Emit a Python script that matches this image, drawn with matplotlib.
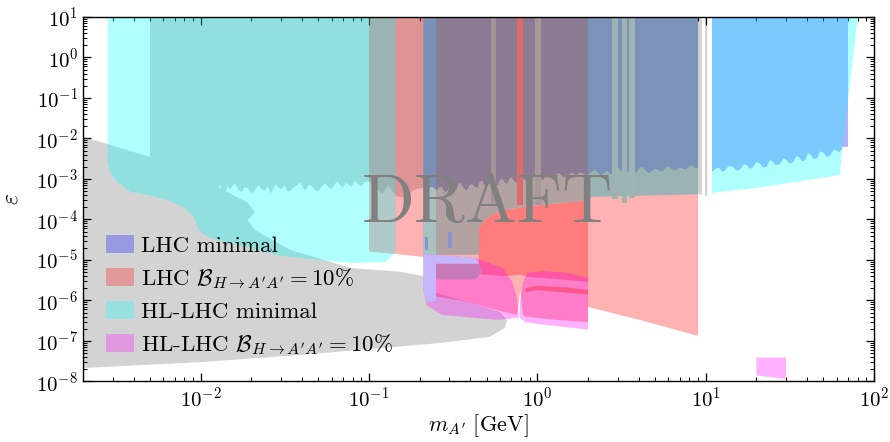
import numpy as np
import matplotlib
matplotlib.use('Agg')
import matplotlib.pyplot as plt
from matplotlib.patches import Patch
from matplotlib.ticker import LogLocator, NullFormatter

plt.rcParams['font.family'] = 'serif'
plt.rcParams['font.serif'] = ['cmr10']
plt.rcParams['mathtext.fontset'] = 'cm'
plt.rcParams['axes.unicode_minus'] = False
plt.rcParams['axes.formatter.use_mathtext'] = True

# ---- existing bounds (grey) ----
beam_dump_m = [2.0e-3, 5.0e-3, 8.7e-3, 1.9e-2, 2.1e-2, 1.9e-2, 2.1e-2, 3.4e-2, 7.8e-2, 0.153,
               0.21, 0.22, 0.35, 0.60, 0.66, 0.64, 0.52, 0.265, 3.9e-2, 1.0e-2, 2.0e-3]
beam_dump_e = [1.1e-2, 3.5e-3, 1.4e-3, 2.6e-4, 1.5e-4, 9.7e-5, 5.5e-5, 1.77e-5, 6.3e-6, 5.1e-6,
               4.0e-6, 1.8e-6, 1.03e-6, 5.2e-7, 3.3e-7, 2.1e-7, 1.26e-7, 8.9e-8, 4.5e-8, 3.0e-8, 2.15e-8]

babar_m = [0.0096, 0.0100, 0.0105, 0.0109, 0.0113, 0.0117, 0.012, 0.0125, 0.013, 0.0135, 0.014,
           0.0145, 0.015, 0.0155, 0.016, 0.0168, 0.0175, 0.0182, 0.019, 0.0198, 0.0205, 0.0213,
           0.022, 0.023, 0.024, 0.025, 0.026, 0.027, 0.028, 0.029, 0.030, 0.0315, 0.033, 0.0345,
           0.036, 0.0375, 0.039, 0.0405, 0.042, 0.044, 0.046, 0.048, 0.050, 0.0525, 0.055, 0.0575,
           0.060, 0.0625, 0.065, 0.0675, 0.070, 0.073, 0.076, 0.079, 0.082, 0.086, 0.090, 0.095,
           0.100, 0.105, 0.110, 0.115, 0.120, 0.125, 0.130, 0.137, 0.145, 0.152, 0.160, 0.170,
           0.180, 0.195, 0.210]
babar_e = [8.0e-4, 6.0e-4, 5.0e-4, 6.6e-4, 6.2e-4, 4.6e-4, 4.4e-4, 5.8e-4, 6.8e-4, 5.2e-4, 4.9e-4,
           6.4e-4, 5.6e-4, 7.0e-4, 7.8e-4, 5.3e-4, 4.7e-4, 6.2e-4, 6.0e-4, 4.8e-4, 4.5e-4, 5.9e-4,
           7.0e-4, 5.6e-4, 5.1e-4, 6.6e-4, 4.4e-4, 5.8e-4, 7.4e-4, 6.1e-4, 5.5e-4, 6.9e-4, 4.8e-4,
           5.4e-4, 6.3e-4, 7.1e-4, 8.2e-4, 6.0e-4, 5.2e-4, 7.3e-4, 6.5e-4, 5.3e-4, 5.0e-4, 6.6e-4,
           7.8e-4, 6.2e-4, 5.6e-4, 7.4e-4, 8.8e-4, 6.9e-4, 6.2e-4, 8.0e-4, 7.2e-4, 6.4e-4, 9.2e-4,
           7.5e-4, 6.6e-4, 8.7e-4, 8.4e-4, 6.9e-4, 6.0e-4, 5.0e-4, 4.2e-4, 5.6e-4, 7.0e-4, 5.1e-4,
           3.8e-4, 3.6e-4, 3.4e-4, 4.2e-4, 5.0e-4, 5.8e-4, 6.0e-4]
prompt_m = [5.0e-3, 5.0e-3, 7.6e-3] + babar_m + [2.0, 9.0, 10.2, 10.2]
prompt_e = [10, 2.95e-3, 1.67e-3] + babar_e + [3.6e-4, 4.2e-4, 3.8e-4, 10]

# ---- LHC, B(H->A'A') = 10% (red) ----
lhc_br_m = [0.1, 9.0, 9.0, 4.07, 2.0, 2.0, 1.2, 0.85, 0.82, 0.79, 0.76, 0.6, 0.35, 0.25, 0.25,
            0.21, 0.145, 0.1]
lhc_br_e = [10, 10, 1.33e-7, 3.3e-7, 6.9e-7, 2.9e-7, 3.4e-7, 4.0e-7, 4.5e-7, 1.8e-6, 4.4e-7,
            5.5e-7, 1.0e-6, 1.25e-6, 1.2e-5, 1.19e-5, 1.4e-5, 1.6e-5]
lhc_br2_m = [0.45, 0.48, 0.52, 0.60, 0.80, 1.08, 1.5, 2.0, 2.0, 1.5, 1.1, 0.87, 0.80, 0.62, 0.45]
lhc_br2_e = [6.5e-5, 9.0e-5, 1.2e-4, 1.6e-4, 2.0e-4, 2.3e-4, 2.6e-4, 3.0e-4, 2.86e-6, 3.2e-6,
             3.6e-6, 3.8e-6, 4.3e-6, 4.0e-6, 4.5e-6]
lhc_br3_m = [0.85, 1.0, 1.5, 2.0, 2.0, 1.4, 1.0, 0.85]
lhc_br3_e = [2.0e-6, 2.3e-6, 2.1e-6, 1.8e-6, 1.4e-6, 1.6e-6, 1.8e-6, 1.6e-6]

# ---- LHC minimal (blue) ----
lhc_min_m = [10.9, 10.9, 11.5, 12, 12.5, 13, 13.7, 14.5, 15.2, 16, 16.8, 17.5, 18.2, 19, 20, 21,
             22, 23, 24, 25, 26, 27.5, 29, 30, 31.5, 33, 34.5, 36, 37.5, 39, 40.5, 42, 44, 46,
             48, 50, 52.5, 55, 57.5, 60, 62.5, 65, 70, 70]
lhc_min_e = [10, 1.5e-3, 1.8e-3, 1.9e-3, 1.5e-3, 1.6e-3, 2.1e-3, 2.0e-3, 1.6e-3, 1.7e-3, 2.3e-3,
             2.2e-3, 1.8e-3, 1.9e-3, 2.6e-3, 2.4e-3, 1.9e-3, 2.0e-3, 2.9e-3, 2.7e-3, 2.2e-3,
             2.3e-3, 3.2e-3, 3.0e-3, 2.4e-3, 2.6e-3, 3.6e-3, 3.4e-3, 2.7e-3, 2.9e-3, 4.3e-3,
             4.0e-3, 3.1e-3, 3.3e-3, 4.8e-3, 4.4e-3, 3.5e-3, 3.8e-3, 5.3e-3, 5.0e-3, 4.6e-3,
             6.2e-3, 6.2e-3, 10]
lhc_min_mid_m = [0.25, 0.26, 0.27, 0.28, 0.29, 0.30, 0.31, 0.32, 0.33, 0.34, 0.35, 0.365, 0.38,
                 0.395, 0.41, 0.425, 0.44, 0.455, 0.47, 0.485, 0.5, 0.52, 0.54, 0.56, 0.58, 0.60,
                 0.62, 0.64, 0.66, 0.68, 0.7, 0.725, 0.75, 0.775, 0.8, 0.83, 0.86, 0.89, 0.92,
                 0.96, 1.0, 1.04, 1.08, 1.12, 1.16, 1.2, 1.25, 1.3, 1.35, 1.4, 1.45, 1.5, 1.56,
                 1.62, 1.68, 1.74, 1.8, 1.9, 2.0]
lhc_min_mid_e = [5e-4, 6.2e-4, 6.5e-4, 5.0e-4, 4.8e-4, 6.6e-4, 7e-4, 5.8e-4, 5.5e-4, 7.6e-4, 8e-4,
                 5.9e-4, 5.2e-4, 7.0e-4, 7.5e-4, 6.4e-4, 6e-4, 8.6e-4, 9e-4, 7.2e-4, 6.5e-4,
                 7.9e-4, 8.5e-4, 7.4e-4, 7e-4, 9.4e-4, 1.0e-3, 8.2e-4, 7.5e-4, 1.0e-3, 1.1e-3,
                 9.0e-4, 8e-4, 1.1e-3, 1.2e-3, 1.0e-3, 9e-4, 1.05e-3, 1.1e-3, 1.2e-3, 1.3e-3,
                 1.1e-3, 9.5e-4, 1.15e-3, 1.25e-3, 1.15e-3, 1.05e-3, 1.3e-3, 1.4e-3, 1.2e-3,
                 1.1e-3, 1.25e-3, 1.3e-3, 1.45e-3, 1.2e-3, 1.35e-3, 1.45e-3, 1.3e-3, 1.25e-3]
lhc_min_hi_m = [2.0, 2.1, 2.2, 2.3, 2.4, 2.5, 2.6, 2.7, 2.8, 2.9, 3.0, 3.15, 3.3, 3.45, 3.6,
                3.75, 3.9, 4.05, 4.2, 4.4, 4.6, 4.8, 5.0, 5.25, 5.5, 5.75, 6.0, 6.25, 6.5, 6.75,
                7.0, 7.3, 7.6, 7.95, 8.3, 8.65, 9.0]
lhc_min_hi_e = [1.3e-3, 1.5e-3, 1.7e-3, 1.4e-3, 1.2e-3, 1.45e-3, 1.6e-3, 1.3e-3, 1.4e-3, 1.75e-3,
                1.9e-3, 1.55e-3, 1.3e-3, 1.5e-3, 1.7e-3, 1.4e-3, 1.5e-3, 1.85e-3, 2.0e-3,
                1.6e-3, 1.4e-3, 1.6e-3, 1.8e-3, 1.65e-3, 1.5e-3, 1.85e-3, 2.1e-3, 1.8e-3,
                1.6e-3, 1.75e-3, 1.9e-3, 1.8e-3, 1.7e-3, 2.0e-3, 2.2e-3, 1.9e-3, 1.8e-3]

# ---- HL-LHC minimal (cyan) ----
hl_min_m = [2.8e-3, 0.144, 0.144, 0.125, 7.8e-2, 3.0e-2, 2.2e-2, 1.5e-2, 1.1e-2, 9.7e-3, 9.1e-3,
            7.9e-3, 6.4e-3, 4.9e-3, 3.8e-3, 3.2e-3, 2.9e-3, 2.8e-3]
hl_min_e = [10, 10, 1.6e-5, 8.9e-6, 8.4e-6, 1.26e-5, 1.77e-5, 2.6e-5, 3.7e-5, 5.5e-5, 1.15e-4,
            2.0e-4, 3.0e-4, 4.0e-4, 4.8e-4, 8.4e-4, 1.4e-3, 2.5e-3]
hl_min2_m = [2.0, 9.0, 9.0, 2.0]
hl_min2_e = [10, 10, 4.2e-4, 3.6e-4]
hl_min3_m = [10.9, 80, 65, 62.5, 55, 35, 20, 10.9]
hl_min3_e = [10, 10, 6.2e-3, 1.26e-3, 1.15e-3, 8.5e-4, 6.0e-4, 4.5e-4]

# ---- HL-LHC, B(H->A'A') = 10% (magenta) ----
hl_br_a_m = [0.21, 0.43, 0.62, 0.71, 0.76, 0.77, 0.585, 0.27, 0.22, 0.21]
hl_br_a_e = [1.4e-5, 1.12e-5, 6.3e-6, 2.9e-6, 1.03e-6, 3.7e-7, 3.3e-7, 4.4e-7, 7.7e-7, 1.8e-6]
hl_br_b_m = [0.82, 0.87, 1.1, 1.5, 2.0, 2.0, 1.2, 0.85, 0.78, 0.79]
hl_br_b_e = [2.7e-6, 4.8e-6, 5.3e-6, 4.8e-6, 3.6e-6, 1.9e-7, 2.4e-7, 2.9e-7, 3.9e-7, 1.0e-6]
hl_br_box_m = [20, 30, 30, 20]
hl_br_box_e = [3.9e-8, 3.9e-8, 1.15e-8, 1.4e-8]

# overlap patches whose blended colour is taken straight from the figure
lav_m = [0.21, 0.43, 0.45, 0.25, 0.25, 0.22, 0.21]
lav_e = [1.4e-5, 1.12e-5, 8.0e-6, 8.0e-6, 1.0e-6, 9.0e-7, 1.8e-6]
pinkish_m = [0.25, 0.45, 0.47, 0.43, 0.25]
pinkish_e = [8.0e-6, 8.0e-6, 5.0e-6, 3.3e-6, 3.3e-6]
brown_m = [0.25, 2.0, 2.0, 1.5, 1.08, 0.8, 0.6, 0.52, 0.48, 0.45, 0.45, 0.25]
brown_e = [2e-3, 2e-3, 3.0e-4, 2.6e-4, 2.3e-4, 2.0e-4, 1.6e-4, 1.2e-4, 9e-5, 6.5e-5, 1.33e-5,
           1.33e-5]
tealgray_m = [0.21, 0.25, 0.25, 0.21]
tealgray_e = [1e-3, 1e-3, 1.33e-5, 1.33e-5]
bluegray_m = [0.21, 0.25, 0.25, 0.235, 0.22, 0.21]
bluegray_e = [10, 10, 5.5e-4, 6.5e-4, 5e-4, 6e-4]

# thin vertical strips in the upper band: (m_lo, m_hi, eps_bottom, colour)
strips = [(0.53, 0.57, 2.5e-4, '#a39595'), (0.76, 0.82, 2.3e-4, '#e06a6a'),
          (0.97, 1.05, 2.3e-4, '#a89898'), (2.78, 3.01, 3.2e-4, '#9fb3b3'),
          (3.2, 3.4, 2.5e-4, '#9fb3b3'), (3.5, 3.8, 3.3e-4, '#a0b4b4'),
          (9.5, 9.9, 3.8e-4, 'white')]
blobs = [(0.215, 0.225, 1.77e-5, 3.7e-5), (0.295, 0.31, 2.0e-5, 4.9e-5)]

fig = plt.figure(figsize=(8.9, 4.42), dpi=100)
ax = fig.add_axes([0.0933, 0.137, 0.8888, 0.8247])
ax.set_xscale('log')
ax.set_yscale('log')

kw = dict(lw=0)
ax.fill(beam_dump_m, beam_dump_e, color='#d3d3d3', zorder=1, **kw)
ax.fill(prompt_m, prompt_e, color='#d3d3d3', zorder=1, **kw)

ax.fill(lhc_br_m, lhc_br_e, color='red', alpha=0.3, zorder=2, **kw)
ax.fill(lhc_br2_m, lhc_br2_e, color='red', alpha=0.3, zorder=2, **kw)
ax.fill(lhc_min_m, lhc_min_e, color='blue', alpha=0.3, zorder=3, **kw)
for m, e in [(hl_min_m, hl_min_e), (hl_min2_m, hl_min2_e), (hl_min3_m, hl_min3_e)]:
    ax.fill(m, e, color='cyan', alpha=0.31, zorder=4, **kw)

ax.fill(brown_m, brown_e, color='#b2a2a2', zorder=5, **kw)
ax.fill([0.25] + lhc_min_mid_m + [2.0], [10] + lhc_min_mid_e + [10], color='#8b7b93', zorder=5, **kw)
ax.fill([2.0] + lhc_min_hi_m + [9.0], [10] + lhc_min_hi_e + [10], color='#7b93b8', zorder=5, **kw)
ax.fill(tealgray_m, tealgray_e, color='#a8c2c2', zorder=5, **kw)
ax.fill(bluegray_m, bluegray_e, color='#7b90b8', zorder=5, **kw)
for lo, hi, bot, c in strips:
    ax.fill([lo, hi, hi, lo], [10, 10, bot, bot], color=c, zorder=5.5, **kw)
for lo, hi, bot, top in blobs:
    ax.fill([lo, hi, hi, lo], [top, top, bot, bot], color='#8a94d0', zorder=5.5, **kw)

ax.fill(hl_br_a_m, hl_br_a_e, color='magenta', alpha=0.3, zorder=6, **kw)
ax.fill(hl_br_b_m, hl_br_b_e, color='magenta', alpha=0.3, zorder=6, **kw)
ax.fill(hl_br_box_m, hl_br_box_e, color='magenta', alpha=0.3, zorder=6, **kw)
ax.fill(lav_m, lav_e, color='#c6b6fb', zorder=6.5, **kw)
ax.fill(pinkish_m, pinkish_e, color='#c87ab8', zorder=6.5, **kw)
ax.fill(lhc_br3_m, lhc_br3_e, color='red', alpha=0.3, zorder=7, **kw)

ax.set_xlim(2e-3, 100)
ax.set_ylim(1e-8, 10)
ax.xaxis.set_major_locator(LogLocator(base=10, numticks=20))
ax.yaxis.set_major_locator(LogLocator(base=10, numticks=20))
for a in (ax.xaxis, ax.yaxis):
    a.set_minor_locator(LogLocator(base=10, subs=np.arange(2, 10), numticks=100))
    a.set_minor_formatter(NullFormatter())
ax.tick_params(which='both', direction='in', top=True, right=True, labelsize=15)
ax.tick_params(which='major', length=6, width=0.9)
ax.tick_params(which='minor', length=3, width=0.7)
for s in ax.spines.values():
    s.set_linewidth(1.0)
    s.set_zorder(30)

ax.set_xlabel(r"$m_{A'}\ [\mathrm{GeV}]$", fontsize=16, labelpad=1)
ax.set_ylabel(r"$\varepsilon$", fontsize=17, labelpad=10)

ax.text(0.511, 0.438, 'DRAFT', transform=ax.transAxes, fontsize=50, color='#808080',
        ha='center', va='baseline', zorder=20)

handles = [Patch(facecolor='#9999e0', lw=0), Patch(facecolor='#e09999', lw=0),
           Patch(facecolor='#99e0e0', lw=0), Patch(facecolor='#e099e0', lw=0)]
labels = ['LHC minimal', r"LHC $\mathcal{B}_{H\to A'A'}=10\%$",
          'HL-LHC minimal', r"HL-LHC $\mathcal{B}_{H\to A'A'}=10\%$"]
leg = ax.legend(handles, labels, loc='lower left', bbox_to_anchor=(0.018, 0.042),
                frameon=False, fontsize=16.5, handlelength=1.2, handleheight=0.82,
                handletextpad=0.3, labelspacing=0.46, borderaxespad=0)
leg.set_zorder(25)

fig.savefig('out.png', dpi=100)
